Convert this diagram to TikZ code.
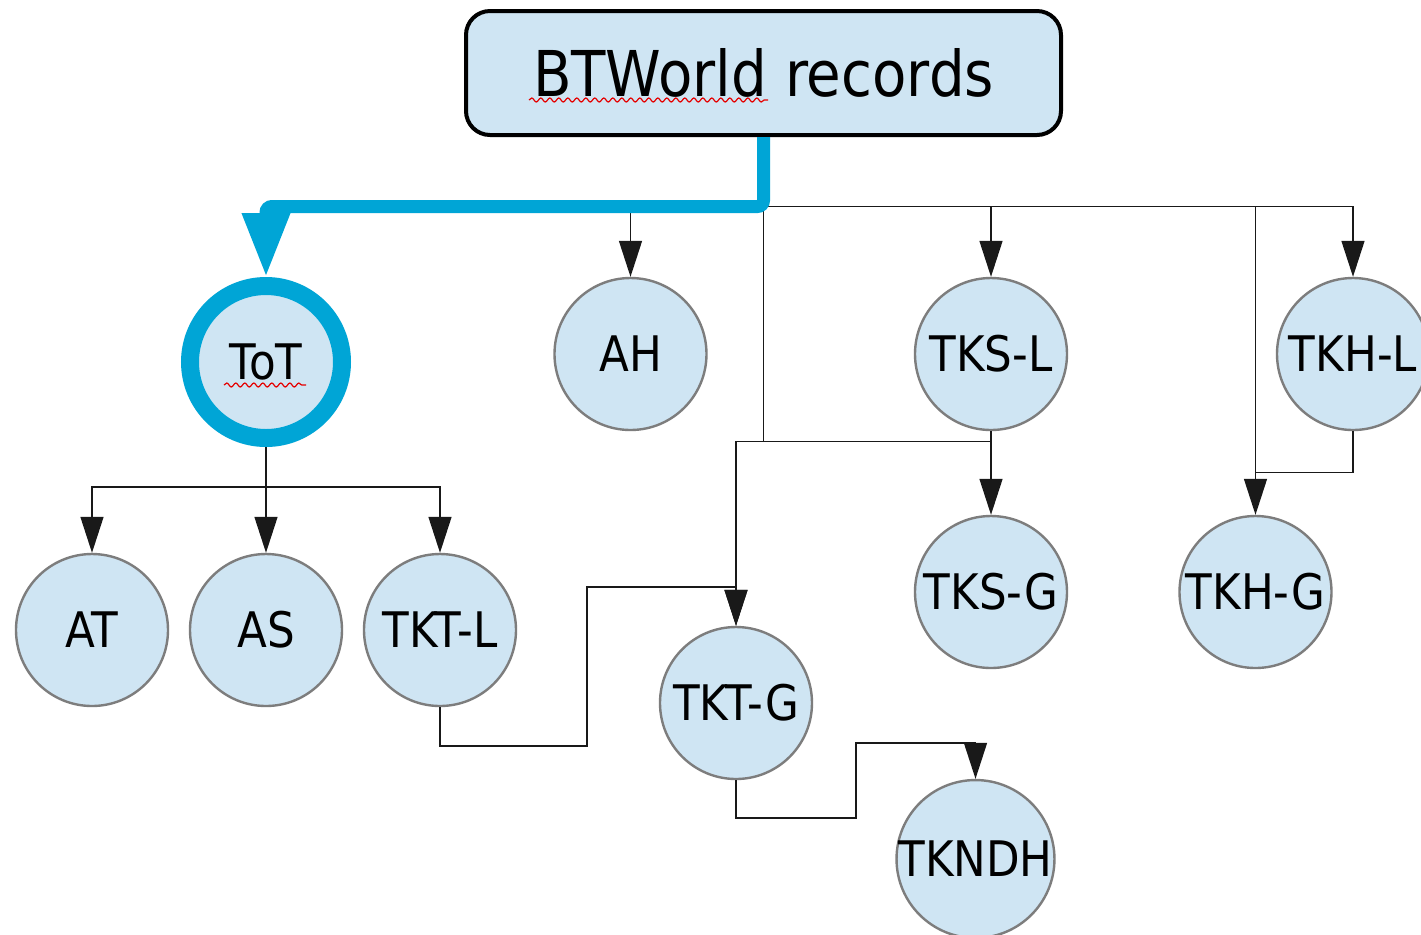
\documentclass[tikz,border=0pt]{standalone}
\usepackage{fontspec}
\setmainfont{DejaVu Sans}[FakeStretch=0.89]
\usetikzlibrary{arrows.meta,decorations.pathmorphing}
\definecolor{nodefill}{RGB}{207,229,243}
\definecolor{nodegray}{RGB}{125,125,125}
\definecolor{tblue}{RGB}{0,165,214}
\begin{document}
\begin{tikzpicture}[x=0.5pt,y=-0.5pt,
  nd/.style={circle, draw=nodegray, line width=1.2pt, fill=nodefill, minimum size=76pt,
    inner sep=0pt, outer sep=0.6pt, font=\fontsize{24.5}{29}\selectfont},
  totnode/.style={nd, draw=tblue, line width=9pt, outer sep=4.5pt},
  rootbox/.style={rectangle, rounded corners=12pt, draw=black, line width=2pt, fill=nodefill,
    minimum width=297.5pt, minimum height=62pt, inner sep=0pt, outer sep=1pt,
    font=\fontsize{31.6}{36}\selectfont},
  conn/.style={draw=black!90, line width=0.7pt},
  arr/.style={conn, -{Triangle[length=18pt,width=11.5pt]}},
  barr/.style={draw=tblue, line width=6.5pt, rounded corners=3pt, -{Triangle[length=32pt,width=22.5pt]}},
  wavy/.style={draw=red!90!black, line width=0.6pt, decorate, decoration={snake, segment length=4.5pt, amplitude=1pt}}
]
\clip (0,0) rectangle (1421,934);
\fill[white] (0,0) rectangle (1421,934);

% nodes
\node[rootbox] (root) at (763.5,73) {BTWorld records};
\node[totnode] (ToT) at (266,362) {ToT};
\node[nd] (AH) at (630.5,354) {AH};
\node[nd] (TKSL) at (991,354) {TKS-L};
\node[nd] (TKHL) at (1353,354) {TKH-L};
\node[nd] (AT) at (92,630) {AT};
\node[nd] (AS) at (266,630) {AS};
\node[nd] (TKTL) at (440,630) {TKT-L};
\node[nd] (TKTG) at (736,703) {TKT-G};
\node[nd] (TKSG) at (991,592) {TKS-G};
\node[nd] (TKHG) at (1255.5,592) {TKH-G};
\node[nd] (TKNDH) at (975.5,859) {TKNDH};

% junction coordinates
\coordinate (J1) at (763.5,206.5);
\coordinate (B1) at (763.5,441.5);
\coordinate (H1) at (1255.5,472.5);
\coordinate (T1) at (266,487);
\coordinate (L1) at (587,746);
\coordinate (L2) at (736,587);
\coordinate (G1) at (856,818);
\coordinate (G2) at (975.5,743);

% thin connectors
\draw[arr] (AH.north |- J1) -- (AH.north);
\draw[arr] (J1) -| (TKSL.north);
\draw[arr] (J1) -| (TKHL.north);
\draw[arr] (J1) -| (TKHG.north);
\draw[conn] (TKHL.south) |- (H1);
\draw[conn] (J1) -- (B1);
\draw[arr] (TKSL.south |- B1) -| (TKTG.north);
\draw[arr] (TKSL.south) -- (TKSG.north);
\draw[conn] (ToT.south) -- (T1);
\draw[arr] (T1) -| (AT.north);
\draw[arr] (T1) -- (AS.north);
\draw[arr] (T1) -| (TKTL.north);
\draw[arr] (TKTL.south) |- (L1) |- (L2) -- (TKTG.north);
\draw[arr] (TKTG.south) |- (G1) |- (G2) -- (TKNDH.north);

% thick blue connector
\draw[barr] (root.south) -- (J1) -| (ToT.north);

% spell-check underlines
\draw[wavy] (529,100) -- (768,100);
\draw[wavy] (224,385) -- (306,385);
\end{tikzpicture}
\end{document}
